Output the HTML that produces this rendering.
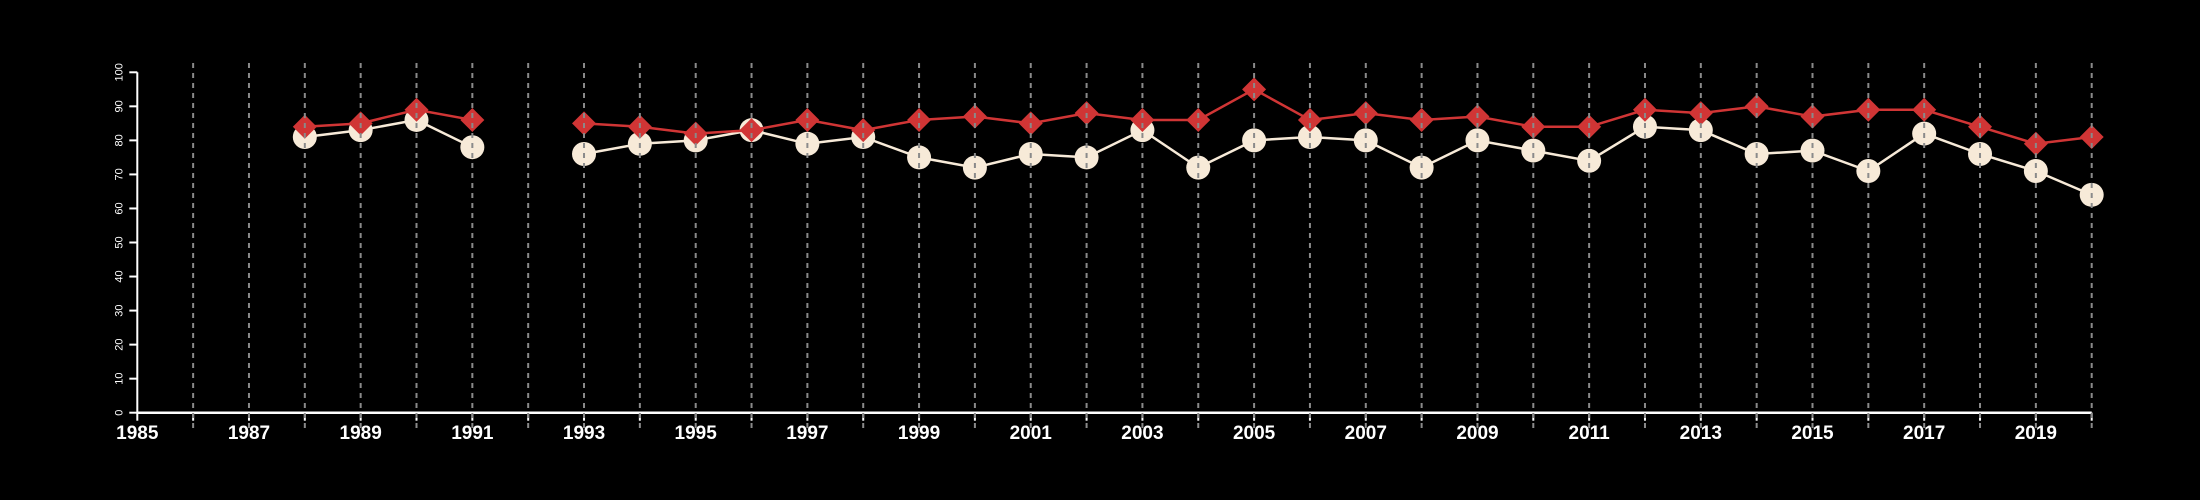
<!DOCTYPE html>
<html><head><meta charset="utf-8"><style>
html,body{margin:0;padding:0;background:#000;}
svg{display:block;font-family:"Liberation Sans",Arial,sans-serif;}
</style></head><body>
<svg id="chart" width="2200" height="500" viewBox="0 0 2200 500" xmlns="http://www.w3.org/2000/svg">
<rect width="2200" height="500" fill="#000"/>
<g id="axes"></g>
<g id="series"></g>
<g id="grid"></g>
</svg>
<script>
const years = [1988,1989,1990,1991,1993,1994,1995,1996,1997,1998,1999,2000,2001,2002,2003,2004,2005,2006,2007,2008,2009,2010,2011,2012,2013,2014,2015,2016,2017,2018,2019,2020];
const redValues = [84,85,89,86,85,84,82,83,86,83,86,87,85,88,86,86,95,86,88,86,87,84,84,89,88,90,87,89,89,84,79,81];
const whiteValues = [81,83,86,78,76,79,80,83,79,81,75,72,76,75,83,72,80,81,80,72,80,77,74,84,83,76,77,71,82,76,71,64];
const yTicks = [0,10,20,30,40,50,60,70,80,90,100];
const xMin = 1985, xMax = 2020;

const NS = "http://www.w3.org/2000/svg";
const x0 = 137.3, x1 = 2091.7, yBase = 412.7, yTop = 72.3;
function xs(v){ return x0 + (v - xMin) * (x1 - x0) / (xMax - xMin); }
function ys(v){ return yBase - v * (yBase - yTop) / 100; }
function mk(tag, attrs, parent){
  const e = document.createElementNS(NS, tag);
  for (const k in attrs) e.setAttribute(k, attrs[k]);
  parent.appendChild(e); return e;
}
const axes = document.getElementById('axes');
const series = document.getElementById('series');
const grid = document.getElementById('grid');

// y axis
let ya = mk('line', {x1:x0, y1:ys(0), x2:x0, y2:ys(100), stroke:'#fff', 'stroke-width':2}, axes);


yTicks.forEach(t => {
  const tk = mk('line', {x1:x0-8, y1:ys(t), x2:x0, y2:ys(t), stroke:'#fff', 'stroke-width':2}, axes);
  
  
  const tx = mk('text', {x:0, y:0, fill:'#fff', 'font-size':11, 'text-anchor':'middle', transform:`translate(${x0-15},${ys(t)}) rotate(-90)`}, axes);
  tx.textContent = t;
  
  
});
// x axis
let xa = mk('line', {x1:x0, y1:yBase, x2:x1, y2:yBase, stroke:'#fff', 'stroke-width':2.5}, axes);


for (let yr = xMin; yr <= xMax; yr++) {
  const tk = mk('line', {x1:xs(yr), y1:yBase, x2:xs(yr), y2:yBase+8, stroke:'#fff', 'stroke-width':2}, axes);
  
  
  if (yr % 2 === 1) {
    const tx = mk('text', {x:xs(yr), y:439, fill:'#fff', 'font-size':19, 'font-weight':'bold', 'text-anchor':'middle'}, axes);
    tx.textContent = yr;
    
    
  }
  if (yr > xMin) {
    const g = mk('line', {x1:xs(yr), y1:63, x2:xs(yr), y2:428, stroke:'#8a8a8a', 'stroke-width':2, 'stroke-dasharray':'5,5'}, grid);
    
    
  }
}
// lines (break at gaps)
function segs(vals){
  const out = []; let cur = [];
  years.forEach((y,i) => {
    if (i > 0 && y - years[i-1] > 1) { out.push(cur); cur = []; }
    cur.push([xs(y), ys(vals[i])]);
  });
  out.push(cur); return out;
}
segs(whiteValues).forEach(s => {
  const p = mk('polyline', {points:s.map(q=>q.join(',')).join(' '), fill:'none', stroke:'#f7ead8', 'stroke-width':2.5}, series);
  
  
});
years.forEach((y,i) => {
  const c = mk('circle', {cx:xs(y), cy:ys(whiteValues[i]), r:12, fill:'#f7ead8'}, series);
  
  
});
segs(redValues).forEach(s => {
  const p = mk('polyline', {points:s.map(q=>q.join(',')).join(' '), fill:'none', stroke:'#d03535', 'stroke-width':2.5}, series);
  
  
});
years.forEach((y,i) => {
  const cx = xs(y), cy = ys(redValues[i]), h = 12;
  const d = mk('polygon', {points:`${cx},${cy-h} ${cx+h},${cy} ${cx},${cy+h} ${cx-h},${cy}`, fill:'#d03535'}, series);
  
  
});
</script>
</body></html>
